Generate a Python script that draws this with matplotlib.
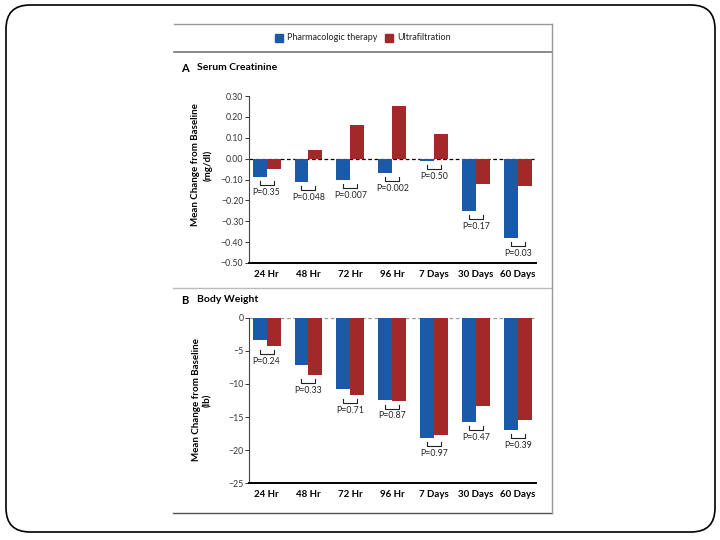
import numpy as np
import matplotlib
matplotlib.use("Agg")
import matplotlib.pyplot as plt
from matplotlib.patches import FancyBboxPatch

plt.rcParams['font.family'] = ['Lato', 'DejaVu Sans']

# データ
categories = ["24 Hr", "48 Hr", "72 Hr", "96 Hr", "7 Days", "30 Days", "60 Days"]
creat_pharm = [-0.09, -0.11, -0.10, -0.07, -0.01, -0.25, -0.38]
creat_uf = [-0.05, 0.04, 0.16, 0.25, 0.12, -0.12, -0.13]
creat_p = ["P=0.35", "P=0.048", "P=0.007", "P=0.002", "P=0.50", "P=0.17", "P=0.03"]
weight_pharm = [-3.4, -7.2, -10.7, -12.4, -18.2, -15.8, -17.0]
weight_uf = [-4.3, -8.7, -11.6, -12.5, -17.7, -13.4, -15.4]
weight_p = ["P=0.24", "P=0.33", "P=0.71", "P=0.87", "P=0.97", "P=0.47", "P=0.39"]

BLUE = "#1a5aa6"
RED = "#a3282a"
W, H = 720, 540

fig = plt.figure(figsize=(7.2, 5.4), dpi=100)

# 背景（スライド枠）
bg = fig.add_axes([0, 0, 1, 1], zorder=0)
bg.set_xlim(0, W)
bg.set_ylim(H, 0)
bg.axis("off")
bg.add_patch(FancyBboxPatch((6, 5), 709, 527, boxstyle="round,pad=0,rounding_size=24",
                            fill=False, ec="black", lw=1.2))
# 図の枠線
bg.plot([174, 552], [24, 24], color="#999999", lw=1.0)
bg.plot([174, 552], [52, 52], color="#777777", lw=1.2)
bg.plot([173, 552], [288, 288], color="#bbbbbb", lw=1.0)
bg.plot([173, 552], [513, 513], color="#555555", lw=1.0)
bg.plot([552, 552], [24, 513], color="#999999", lw=1.0)

# 凡例
bg.add_patch(plt.Rectangle((275, 34), 8, 8, color=BLUE))
bg.text(287, 38, "Pharmacologic therapy", fontsize=6.5, va="center", color="#222222")
bg.add_patch(plt.Rectangle((385, 34), 8, 8, color=RED))
bg.text(397, 38, "Ultrafiltration", fontsize=6.5, va="center", color="#222222")

# パネルタイトル
bg.text(181, 68, "A", fontsize=8, fontweight="bold", va="center")
bg.text(197, 68, "Serum Creatinine", fontsize=7.5, fontweight="bold", va="center")
bg.text(181, 300, "B", fontsize=8, fontweight="bold", va="center")
bg.text(197, 300, "Body Weight", fontsize=7.5, fontweight="bold", va="center")

# y軸ラベル
bg.text(202, 165, "Mean Change from Baseline\n(mg/dl)", fontsize=7, fontweight="bold",
        rotation=90, ha="center", va="center", multialignment="center", linespacing=1.4)
bg.text(202, 400, "Mean Change from Baseline\n(lb)", fontsize=7, fontweight="bold",
        rotation=90, ha="center", va="center", multialignment="center", linespacing=1.4)


def px_axes(left, top, right, bottom):
    return [left / W, 1 - bottom / H, (right - left) / W, (bottom - top) / H]


def panel(rect, pharm, uf, pvals, ylim, ticks, ticklabels, zero_color):
    ax = fig.add_axes(px_axes(*rect), zorder=1)
    ax.patch.set_alpha(0)
    x = np.arange(len(categories))
    bw = 0.334
    ax.bar(x - bw / 2, pharm, bw, color=BLUE)
    ax.bar(x + bw / 2, uf, bw, color=RED)
    ax.axhline(0, color=zero_color, lw=0.9, ls=(0, (3, 2)), zorder=0)
    ax.set_xlim(-0.42, 6.43)
    ax.set_ylim(*ylim)
    # 1ピクセルあたりのデータ量
    upp = (ylim[1] - ylim[0]) / (rect[3] - rect[1])
    for i in range(len(categories)):
        low = min(pharm[i], uf[i], 0)
        top = low - 4 * upp
        bot = top - 4 * upp
        ax.plot([x[i] - bw / 2, x[i] - bw / 2, x[i] + bw / 2, x[i] + bw / 2],
                [top, bot, bot, top], color="#222222", lw=0.8)
        ax.text(x[i], bot - 3 * upp, pvals[i], fontsize=6.3, ha="center", va="top", color="#222222")
    ax.set_yticks(ticks)
    ax.set_yticklabels(ticklabels)
    ax.set_xticks(x)
    ax.set_xticklabels(categories, fontsize=7, fontweight="bold")
    ax.tick_params(axis="y", labelsize=6.3, colors="#333333", length=3, width=0.7, pad=1)
    ax.tick_params(axis="x", length=0, pad=5)
    for s in ["top", "right"]:
        ax.spines[s].set_visible(False)
    ax.spines["left"].set_color("#444444")
    ax.spines["left"].set_linewidth(0.8)
    ax.spines["bottom"].set_color("black")
    ax.spines["bottom"].set_linewidth(1.4)
    return ax


ticks_a = [0.3, 0.2, 0.1, 0.0, -0.1, -0.2, -0.3, -0.4, -0.5]
labels_a = ["0.30", "0.20", "0.10", "0.00", "\u22120.10", "\u22120.20", "\u22120.30", "\u22120.40", "\u22120.50"]
panel((249, 96, 536, 263), creat_pharm, creat_uf, creat_p, (-0.5, 0.3), ticks_a, labels_a, "black")

ticks_b = [0, -5, -10, -15, -20, -25]
labels_b = ["0", "\u22125", "\u221210", "\u221215", "\u221220", "\u221225"]
panel((249, 317.7, 536, 483.3), weight_pharm, weight_uf, weight_p, (-25, 0), ticks_b, labels_b, "#999999")

fig.savefig("out.png", dpi=100)
